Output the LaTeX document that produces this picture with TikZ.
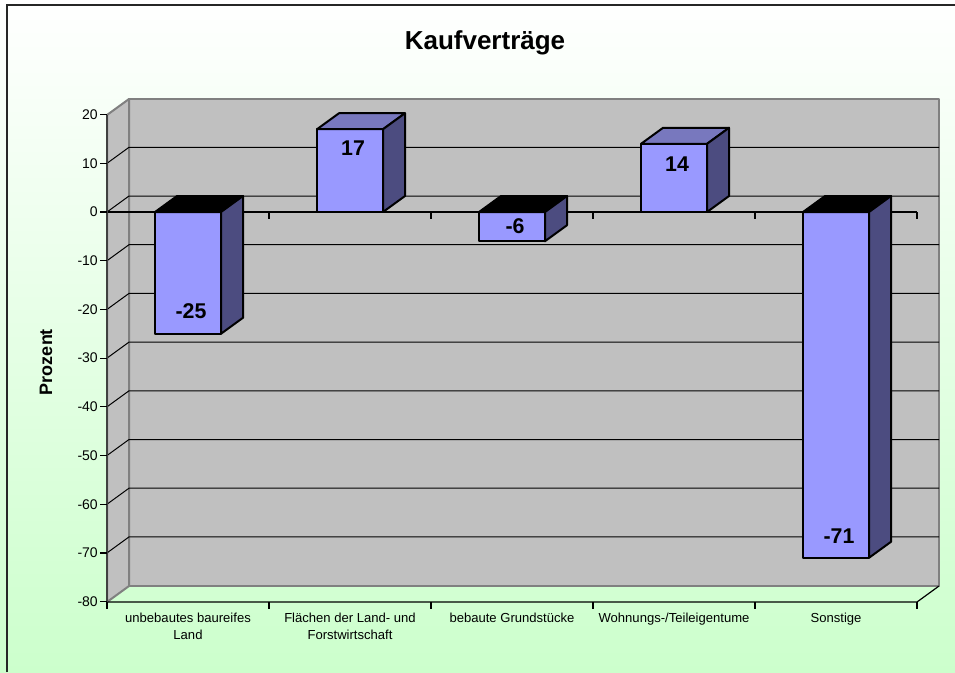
\documentclass[tikz,border=0pt]{standalone}
\usepackage{fontspec}
\setmainfont{Liberation Sans}
\usetikzlibrary{calc}
\definecolor{barfront}{RGB}{153,153,255}
\definecolor{barside}{RGB}{76,76,128}
\definecolor{bartop}{RGB}{120,120,190}
\definecolor{wallgray}{RGB}{192,192,192}
\definecolor{walledge}{RGB}{128,128,128}
\definecolor{paleg}{RGB}{204,255,204}

\begin{document}
\begin{tikzpicture}[x=0.75pt, y=-0.75pt,
  wall/.style={fill=wallgray, draw=walledge, line width=1.5pt, line join=round},
  grid/.style={black, line width=0.75pt},
  axis/.style={black, line width=0.9pt},
  face/.style={draw=black, line width=1.5pt, line join=round},
  ticklbl/.style={anchor=east, inner sep=0pt, font=\fontsize{10.5}{12}\selectfont},
  catlbl/.style={anchor=north, align=center, inner sep=0pt, font=\fontsize{9.8}{12.75}\selectfont},
  vallbl/.style={inner sep=0pt, font=\bfseries\fontsize{16}{19}\selectfont}
]
\useasboundingbox (0,0) rectangle (955,672);
\shade[top color=white, bottom color=paleg] (0,0) rectangle (955,672);
\draw[line width=1.2pt, black!85] (7,672) -- (7,5) -- (955,5);

% walls
\draw[wall] (129,99) rectangle (939,586);
\draw[wall] (107,115) -- (129,99) -- (129,586) -- (107,602) -- cycle;
\foreach \v in {10,0,...,-70}
  \draw[grid] (107,212-4.87*\v) -- (129,196-4.87*\v) -- (939,196-4.87*\v);

% axes
\draw[axis] (107,212) -- (917,212);
\draw[axis] (107,602) -- (917,602) -- (939,586);
\foreach \x in {107,269,...,917} {
  \draw[axis] (\x,212) -- (\x,219);
  \draw[axis] (\x,602) -- (\x,609);
}
\draw[line width=1.5pt, black!75] (107,115) -- (107,602);
\foreach \v in {20,10,...,-80} {
  \draw[axis] (100,212-4.87*\v) -- (107,212-4.87*\v);
  \node[ticklbl] (tick\v) at (98,212-4.87*\v) {\v};
}

% bars
\foreach \i/\v/\ly/\tc in {1/-25/311/black, 2/17/148/bartop, 3/-6/226/black, 4/14/164/bartop, 5/-71/536/black} {
  \pgfmathsetmacro{\cx}{188+162*(\i-1)}
  \pgfmathsetmacro{\yt}{212-4.87*max(\v,0)}
  \pgfmathsetmacro{\yb}{212-4.87*min(\v,0)}
  \draw[face, fill=barfront] (\cx-33,\yt) rectangle (\cx+33,\yb);
  \draw[face, fill=\tc] (\cx-33,\yt) -- (\cx-11,\yt-16) -- (\cx+55,\yt-16) -- (\cx+33,\yt) -- cycle;
  \draw[face, fill=barside] (\cx+33,\yt) -- (\cx+55,\yt-16) -- (\cx+55,\yb-16) -- (\cx+33,\yb) -- cycle;
  \node[vallbl] (val\i) at (\cx+3,\ly) {\v};
}

\node[font=\bfseries\fontsize{19.5}{23}\selectfont, anchor=base] (title) at (485,49) {Kaufverträge};
\node[font=\bfseries\fontsize{13.5}{16}\selectfont, rotate=90, inner sep=0pt] (ylab) at (46,362) {Prozent};

\node[catlbl] (cat1) at (188,613) {unbebautes baureifes\\Land};
\node[catlbl] (cat2) at (350,613) {Flächen der Land- und\\Forstwirtschaft};
\node[catlbl] (cat3) at (512,613) {bebaute Grundstücke};
\node[catlbl] (cat4) at (674,613) {Wohnungs-/Teileigentume};
\node[catlbl] (cat5) at (836,613) {Sonstige};
\end{tikzpicture}
\end{document}
